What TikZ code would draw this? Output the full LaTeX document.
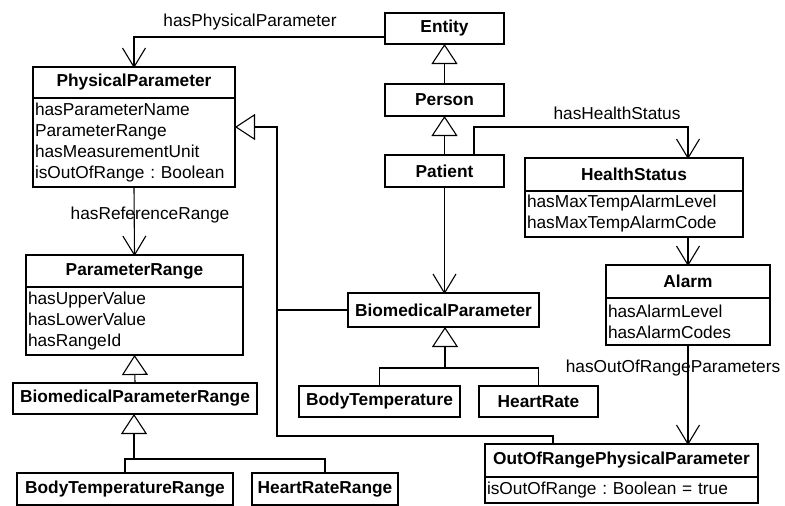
\documentclass[tikz,border=0pt]{standalone}
\usepackage{fontspec}
\setmainfont{Liberation Sans}
\usetikzlibrary{arrows.meta}
\frenchspacing

% open "V" head for navigable associations
\pgfdeclarearrow{
  name = OpenV,
  parameters = {\the\pgfarrowlength,\the\pgfarrowwidth},
  setup code = {
    \pgfarrowssettipend{0pt}
    \pgfarrowssetlineend{0pt}
    \pgfarrowshullpoint{0pt}{0pt}
    \pgfarrowshullpoint{-\pgfarrowlength}{.5\pgfarrowwidth}
    \pgfarrowshullpoint{-\pgfarrowlength}{-.5\pgfarrowwidth}
  },
  drawing code = {
    \pgfsetdash{}{0pt}
    \pgfsetroundjoin
    \pgfsetbuttcap
    \pgfpathmoveto{\pgfqpoint{-\pgfarrowlength}{.5\pgfarrowwidth}}
    \pgfpathlineto{\pgfpointorigin}
    \pgfpathlineto{\pgfqpoint{-\pgfarrowlength}{-.5\pgfarrowwidth}}
    \pgfusepathqstroke
  },
  defaults = {length = 19pt, width = 23pt}
}

\begin{document}
\begin{tikzpicture}[x=1pt,y=-1pt,
  every node/.style={font=\fontsize{17.3}{21}\selectfont},
  cls/.style={draw, line width=1.3pt, anchor=north west, inner sep=0pt, outer sep=0pt,
    font=\fontsize{17.3}{21}\selectfont\bfseries},
  att/.style={draw, line width=1.3pt, anchor=north west, inner xsep=2pt, inner ysep=0pt,
    outer sep=0pt, align=left},
  assoc/.style={line width=1.1pt, -{OpenV[length=19pt,width=23pt]}},
  gen/.style={line width=1.1pt, -{Triangle[open,length=20pt,width=26pt,fill=white]}},
  conn/.style={line width=1.1pt},
  lbl/.style={inner sep=0pt}
]
\useasboundingbox (0,0) rectangle (785,506);

% class boxes
\node[cls, minimum width=119pt, minimum height=31pt] (ent) at (385,13) {Entity};
\node[cls, minimum width=119pt, minimum height=32pt] (per) at (385,84) {Person};
\node[cls, minimum width=119pt, minimum height=32pt] (pat) at (385,155) {Patient};

\node[cls, minimum width=202pt, minimum height=31pt] (pp) at (33,67) {PhysicalParameter};
\node[att, minimum width=202pt, minimum height=89pt, text width=198pt] (ppa) at (pp.south west)
  {hasParameterName\\ParameterRange\\hasMeasurementUnit\\isOutOfRange : Boolean};

\node[cls, minimum width=217pt, minimum height=32pt] (pr) at (26,255) {ParameterRange};
\node[att, minimum width=217pt, minimum height=68pt, text width=213pt] (pra) at (pr.south west)
  {hasUpperValue\\hasLowerValue\\hasRangeId};

\node[cls, minimum width=244pt, minimum height=31pt] (bpr) at (13,383) {BiomedicalParameterRange};
\node[cls, minimum width=216pt, minimum height=32pt] (btr) at (17,473) {BodyTemperatureRange};
\node[cls, minimum width=146pt, minimum height=32pt] (hrr) at (252,473) {HeartRateRange};

\node[cls, minimum width=191pt, minimum height=34pt] (bp) at (348,293) {BiomedicalParameter};
\node[cls, minimum width=161pt, minimum height=31pt] (bt) at (299,386) {BodyTemperature};
\node[cls, minimum width=119pt, minimum height=31pt] (hr) at (479,386) {HeartRate};

\node[cls, minimum width=218pt, minimum height=33pt] (hs) at (525,158) {HealthStatus};
\node[att, minimum width=218pt, minimum height=46pt, text width=214pt] (hsa) at (hs.south west)
  {hasMaxTempAlarmLevel\\hasMaxTempAlarmCode};

\node[cls, minimum width=164pt, minimum height=33pt] (al) at (606,265) {Alarm};
\node[att, minimum width=164pt, minimum height=47pt, text width=160pt] (ala) at (al.south west)
  {hasAlarmLevel\\hasAlarmCodes};

\node[cls, minimum width=273pt, minimum height=33pt] (oor) at (485,444) {OutOfRangePhysicalParameter};
\node[att, minimum width=273pt, minimum height=26pt, text width=269pt] (oora) at (oor.south west)
  {isOutOfRange : Boolean = true};

% bend points of the connectors
\coordinate (e1) at (134,37);
\coordinate (h1) at (474,127);
\coordinate (h2) at (688,127);
\coordinate (g1) at (277,127);
\coordinate (g2) at (277,436);
\coordinate (g3) at (553,436);
\coordinate (t1) at (445,368);
\coordinate (t2) at (134,459);

% associations
\draw[assoc] (e1 -| ent.west) -- (e1) -- (pp.north);
\draw[assoc] (ppa.south) -- (pr.north);
\draw[assoc] (h1 |- pat.north) -- (h1) -- (h2) -- (h2 |- hs.north);
\draw[assoc] (h2 |- hsa.south) -- (h2 |- al.north);
\draw[assoc] (h2 |- ala.south) -- (h2 |- oor.north);
\draw[assoc] (pat.south) -- (pat.south |- bp.north);

% generalizations
\draw[gen] (per.north) -- (ent.south);
\draw[gen] (pat.north) -- (per.south);
\draw[gen] (bpr.north) -- (pra.south);
\draw[conn] (btr.north) |- (t2) -| (hrr.north);
\draw[gen] (t2) -- (t2 |- bpr.south);
\draw[conn] (bt.north) |- (t1) -| (hr.north);
\draw[gen] (t1) -- (t1 |- bp.south);
\draw[conn] (bp.west) -- (bp.west -| g1);
\draw[gen] (g3 |- oor.north) -- (g3) -- (g2) -- (g1) -- (g1 -| ppa.east);

% association labels
\node[lbl] (l1) at (250,22) {hasPhysicalParameter};
\node[lbl] (l2) at (150,215) {hasReferenceRange};
\node[lbl] (l3) at (617,113) {hasHealthStatus};
\node[lbl] (l4) at (673,368) {hasOutOfRangeParameters};
\end{tikzpicture}
\end{document}
